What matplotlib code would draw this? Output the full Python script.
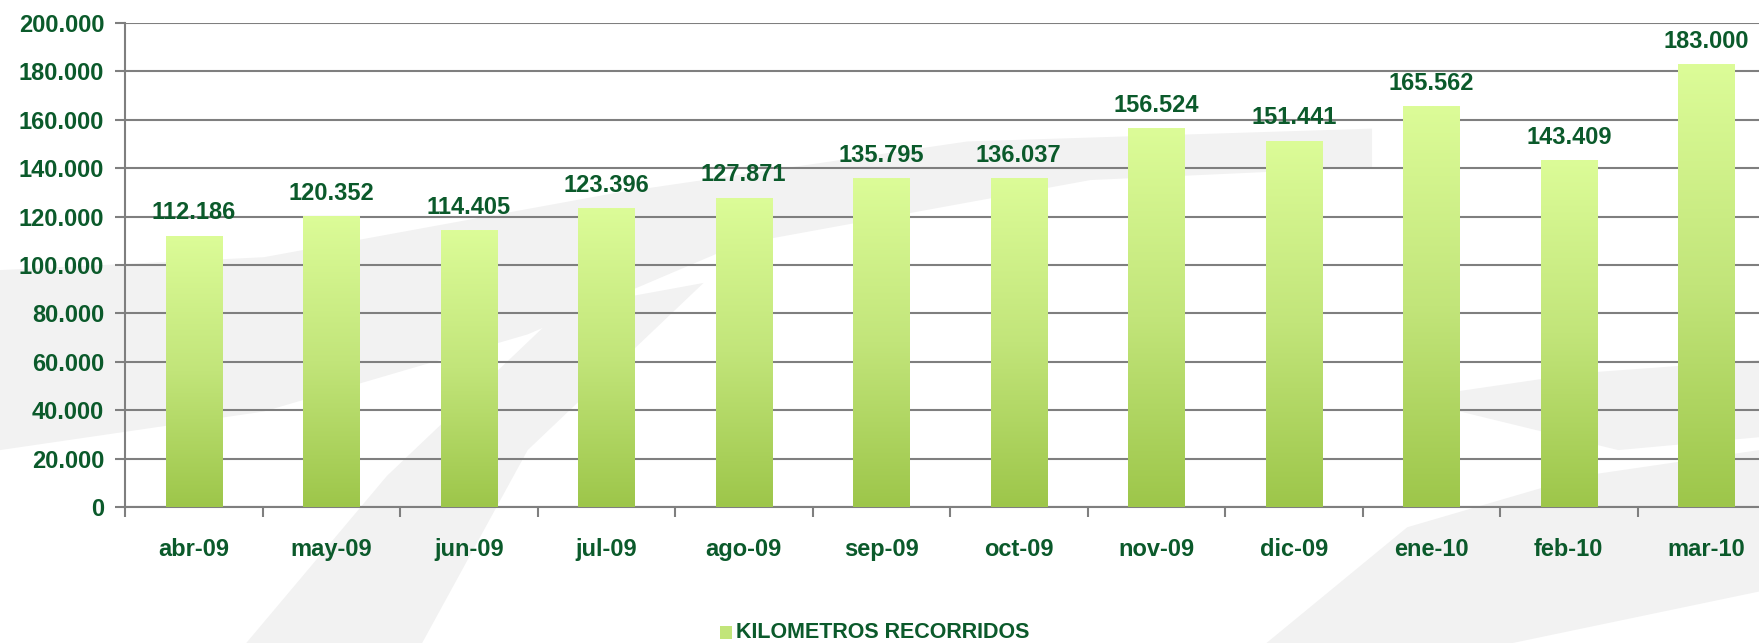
import numpy as np
import matplotlib.pyplot as plt
from matplotlib.patches import Polygon, Rectangle
from matplotlib.colors import LinearSegmentedColormap

meses = ['abr-09', 'may-09', 'jun-09', 'jul-09', 'ago-09', 'sep-09',
         'oct-09', 'nov-09', 'dic-09', 'ene-10', 'feb-10', 'mar-10']
km = [112186, 120352, 114405, 123396, 127871, 135795,
      136037, 156524, 151441, 165562, 143409, 183000]
yticks = [0, 20000, 40000, 60000, 80000, 100000, 120000,
          140000, 160000, 180000, 200000]

verde = '#0b5a2b'
plt.rcParams['font.family'] = ['Liberation Sans', 'DejaVu Sans']

fig = plt.figure(figsize=(17.59, 6.43), dpi=100)
fig.patch.set_facecolor('white')

# fondo: bandas grises suaves
fondo = [
    [(0, 0.30), (0.15, 0.36), (0.30, 0.48), (0.42, 0.62), (0.50, 0.66),
     (0.62, 0.72), (0.78, 0.74), (0.78, 0.80), (0.55, 0.78), (0.35, 0.70),
     (0.15, 0.60), (0, 0.58)],
    [(0.14, 0.0), (0.24, 0.0), (0.30, 0.30), (0.40, 0.56), (0.32, 0.52),
     (0.22, 0.26)],
    [(0.72, 0.0), (0.86, 0.0), (1.0, 0.08), (1.0, 0.30), (0.90, 0.26),
     (0.80, 0.18)],
    [(0.80, 0.38), (0.90, 0.42), (1.0, 0.44), (1.0, 0.32), (0.92, 0.30)],
]
for pts in fondo:
    fig.patches.append(Polygon(pts, closed=True, transform=fig.transFigure,
                               facecolor='#f2f2f2', edgecolor='none', zorder=-1))

ax = fig.add_axes([125 / 1759, 1 - 507 / 643, 1650 / 1759, 484 / 643])
ax.set_facecolor('none')
ax.set_zorder(1)

x = np.arange(len(meses))
ancho = 0.41
cmap = LinearSegmentedColormap.from_list('g', ['#9dc64a', '#c2e57a', '#dcfc98'])
grad = np.linspace(0, 1, 256).reshape(-1, 1)
barras = ax.bar(x, km, width=ancho, color='none', zorder=3)
for b in barras:
    x0, y0 = b.get_x(), b.get_y()
    w, h = b.get_width(), b.get_height()
    im = ax.imshow(grad, cmap=cmap, origin='lower', aspect='auto',
                   extent=[x0, x0 + w, y0, y0 + h], zorder=3)
    im.set_clip_path(b)

ax.set_xlim(-0.5, len(meses) - 0.5)
ax.set_ylim(0, 200000)

for i, v in zip(x, km):
    ax.annotate(f'{v:,.0f}'.replace(',', '.'), (i, v), xytext=(0, 8),
                textcoords='offset points', ha='center', va='bottom',
                fontsize=17, fontweight='bold', color=verde, zorder=5)

ax.set_yticks(yticks)
ax.set_yticklabels([f'{v:,.0f}'.replace(',', '.') for v in yticks],
                   fontsize=17, fontweight='bold', color=verde)
ax.yaxis.grid(True, color='#7f7f7f', linewidth=1.5, zorder=1)
ax.set_axisbelow(True)
ax.tick_params(axis='y', length=7, width=1.5, color='#7f7f7f', pad=8)

ax.set_xticks(x)
ax.set_xticklabels(meses, fontsize=17, fontweight='bold', color=verde)
ax.set_xticks(np.arange(-0.5, len(meses), 1), minor=True)
ax.tick_params(axis='x', which='major', length=0, pad=22)
ax.tick_params(axis='x', which='minor', length=7, width=1.5, color='#7f7f7f')

for s in ['top', 'right']:
    ax.spines[s].set_visible(False)
ax.spines['left'].set_color('#7f7f7f')
ax.spines['left'].set_linewidth(1.5)
ax.spines['bottom'].set_color('#7f7f7f')
ax.spines['bottom'].set_linewidth(1.5)

# leyenda
fig.patches.append(Rectangle((720 / 1759, 1 - 639 / 643), 12 / 1759, 13 / 643,
                             transform=fig.transFigure, facecolor='#c2e57a',
                             edgecolor='none', zorder=2))
fig.text(736 / 1759, 1 - 632 / 643, 'KILOMETROS RECORRIDOS', fontsize=15.5,
         fontweight='bold', color=verde, va='center', ha='left')

fig.savefig('out.png', dpi=100)
